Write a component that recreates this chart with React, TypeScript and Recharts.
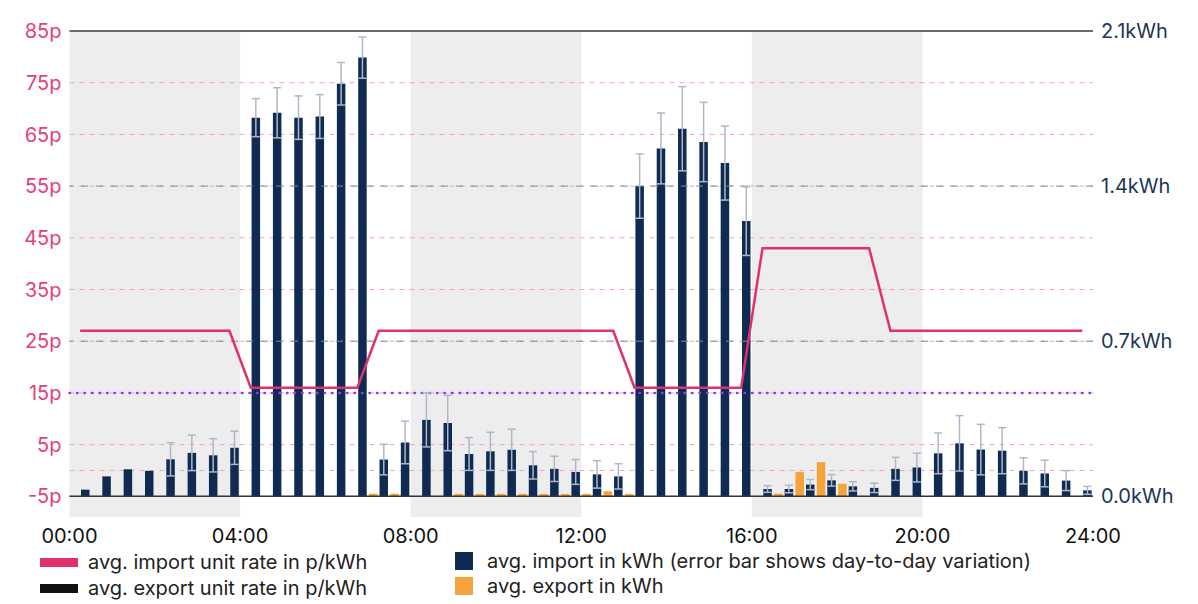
import React from 'react';
import {
  ComposedChart,
  Bar,
  Line,
  XAxis,
  YAxis,
  CartesianGrid,
  ReferenceArea,
  ReferenceLine,
  ErrorBar,
} from 'recharts';

// half-hour slots (start times)
const slots = [
  '00:00', '00:30', '01:00', '01:30', '02:00', '02:30', '03:00', '03:30',
  '04:00', '04:30', '05:00', '05:30', '06:00', '06:30', '07:00', '07:30',
  '08:00', '08:30', '09:00', '09:30', '10:00', '10:30', '11:00', '11:30',
  '12:00', '12:30', '13:00', '13:30', '14:00', '14:30', '15:00', '15:30',
  '16:00', '16:30', '17:00', '17:30', '18:00', '18:30', '19:00', '19:30',
  '20:00', '20:30', '21:00', '21:30', '22:00', '22:30', '23:00', '23:30',
];

// avg. import in kWh per slot
const importKwh = [
  0.03, 0.09, 0.122, 0.115, 0.167, 0.196, 0.185, 0.219,
  1.709, 1.731, 1.709, 1.714, 1.862, 1.98, 0.166, 0.243,
  0.345, 0.331, 0.191, 0.203, 0.21, 0.14, 0.124, 0.11,
  0.099, 0.09, 1.4, 1.57, 1.659, 1.599, 1.504, 1.242,
  0.033, 0.033, 0.053, 0.072, 0.045, 0.038, 0.124, 0.13,
  0.194, 0.239, 0.211, 0.206, 0.115, 0.103, 0.071, 0.027,
];

// day-to-day variation (+/-) of the import
const importErr = [
  null, null, null, null, 0.075, 0.08, 0.075, 0.075,
  0.086, 0.113, 0.098, 0.099, 0.096, 0.093, 0.069, 0.096,
  0.122, 0.125, 0.074, 0.086, 0.093, 0.062, 0.057, 0.056,
  0.062, 0.057, 0.145, 0.16, 0.19, 0.179, 0.167, 0.155,
  0.015, 0.017, 0.023, 0.026, 0.021, 0.021, 0.052, 0.065,
  0.092, 0.125, 0.114, 0.104, 0.059, 0.06, 0.045, 0.018,
];

// avg. export in kWh per slot
const exportKwh = [
  0, 0, 0, 0, 0, 0, 0, 0,
  0, 0, 0, 0, 0, 0, 0.012, 0.012,
  0, 0, 0.011, 0.011, 0.011, 0.011, 0.011, 0.011,
  0.011, 0.023, 0.011, 0, 0, 0, 0, 0,
  0, 0.012, 0.11, 0.154, 0.057, 0, 0, 0,
  0, 0, 0, 0, 0, 0, 0, 0,
];

// avg. import unit rate in p/kWh
const importRate = [
  27, 27, 27, 27, 27, 27, 27, 27,
  16, 16, 16, 16, 16, 16, 27, 27,
  27, 27, 27, 27, 27, 27, 27, 27,
  27, 27, 16, 16, 16, 16, 16, 16,
  43, 43, 43, 43, 43, 43, 27, 27,
  27, 27, 27, 27, 27, 27, 27, 27,
];

const hourTicks = [0, 4, 8, 12, 16, 20, 24];
const hourLabels = ['00:00', '04:00', '08:00', '12:00', '16:00', '20:00', '24:00'];
const rateTicks = [-5, 0, 5, 15, 25, 35, 45, 55, 65, 75, 85];
const kwhTicks = [0, 0.7, 1.4, 2.1];
const shadedHours = [
  [0, 4],
  [8, 12],
  [16, 20],
];

// slot start "HH:MM" -> hours at the middle of the half hour
const slotMid = (s: string) => {
  const [h, m] = s.split(':').map(Number);
  return h + m / 60 + 0.25;
};

const data = slots.map((slot, i) => ({
  slot,
  hour: slotMid(slot),
  importKwh: importKwh[i],
  importErr: importErr[i],
  exportKwh: exportKwh[i],
  importRate: importRate[i],
}));

const FONT = 'Inter, "Noto Sans", sans-serif';
const PINK = '#e0306f';
const NAVY = '#0f2b52';
const ORANGE = '#f4a43b';

const legendItems = [
  { label: 'avg. import unit rate in p/kWh', color: PINK, left: 32, top: 550, w: 38, h: 9, textLeft: 80 },
  { label: 'avg. export unit rate in p/kWh', color: '#111111', left: 32, top: 576, w: 38, h: 9, textLeft: 80 },
  { label: 'avg. import in kWh (error bar shows day-to-day variation)', color: NAVY, left: 447, top: 549, w: 18, h: 18, textLeft: 479 },
  { label: 'avg. export in kWh', color: ORANGE, left: 447, top: 574, w: 18, h: 18, textLeft: 479 },
];

export default function App() {
  return (
    <div style={{ position: 'relative', width: 1182, height: 596, fontFamily: FONT }}>
      <ComposedChart
        width={1182}
        height={545}
        data={data}
        margin={{ top: 23, right: 7, left: 0, bottom: 6 }}
        barGap={2}
        style={{ fontFamily: FONT }}
      >
        {shadedHours.map(([a, b]) => (
          <ReferenceArea
            key={a}
            xAxisId="num"
            yAxisId="left"
            x1={a}
            x2={b}
            y1={-9}
            y2={85}
            fill="#ededed"
            fillOpacity={1}
            stroke="none"
            zIndex={-200}
          />
        ))}
        <CartesianGrid
          xAxisId="num"
          yAxisId="left"
          vertical={false}
          horizontalValues={rateTicks}
          stroke="#f0a3c2"
          strokeDasharray="5 5"
        />
        <XAxis
          xAxisId="num"
          dataKey="hour"
          type="number"
          domain={[0, 24]}
          ticks={hourTicks}
          allowDataOverflow
          tickFormatter={(v) => hourLabels[hourTicks.indexOf(v)] ?? ''}
          axisLine={false}
          tickLine={false}
          tickMargin={6}
          height={30}
          tick={{ fill: '#111111', fontSize: 20, fontFamily: FONT }}
        />
        <XAxis xAxisId="cat" dataKey="slot" type="category" height={0} hide />
        <YAxis
          yAxisId="left"
          orientation="left"
          domain={[-9, 85]}
          ticks={rateTicks}
          allowDataOverflow
          width={61.5}
          axisLine={false}
          tickLine={false}
          tickFormatter={(v) => `${v}p`}
          tick={{ fill: '#e4407c', fontSize: 20, fontFamily: FONT }}
        />
        <YAxis
          yAxisId="right"
          orientation="right"
          domain={[-0.09333, 2.1]}
          ticks={kwhTicks}
          allowDataOverflow
          width={90}
          axisLine={false}
          tickLine={false}
          tickFormatter={(v) => `${v.toFixed(1)}kWh`}
          tick={{ fill: '#1d3557', fontSize: 20, fontFamily: FONT }}
        />
        <ReferenceLine yAxisId="right" xAxisId="num" y={0.7} stroke="#7f8aa3" strokeDasharray="7 8" />
        <ReferenceLine yAxisId="right" xAxisId="num" y={1.4} stroke="#7f8aa3" strokeDasharray="7 8" />
        <ReferenceLine
          yAxisId="left"
          xAxisId="num"
          y={15}
          stroke="#8b3cf0"
          strokeWidth={2.5}
          strokeDasharray="0.5 7"
          strokeLinecap="round"
        />
        <ReferenceLine yAxisId="left" xAxisId="num" y={85} stroke="#6b6b6b" strokeWidth={2} />
        <ReferenceLine yAxisId="left" xAxisId="num" y={-5} stroke="#333333" strokeWidth={1.5} />
        <Bar
          xAxisId="cat"
          yAxisId="right"
          dataKey="exportKwh"
          fill={ORANGE}
          barSize={8.5}
          isAnimationActive={false}
        />
        <Bar
          xAxisId="cat"
          yAxisId="right"
          dataKey="importKwh"
          fill={NAVY}
          barSize={8.5}
          isAnimationActive={false}
        >
          <ErrorBar dataKey="importErr" width={4} stroke="#aeb8ca" strokeWidth={1.5} direction="y" />
        </Bar>
        <Line
          xAxisId="cat"
          yAxisId="left"
          dataKey="importRate"
          type="linear"
          stroke={PINK}
          strokeWidth={2.5}
          dot={false}
          isAnimationActive={false}
        />
      </ComposedChart>
      {legendItems.map((item) => (
        <React.Fragment key={item.label}>
          <div
            style={{
              position: 'absolute',
              left: item.left,
              top: item.top - item.h / 2 + 4,
              width: item.w,
              height: item.h,
              background: item.color,
            }}
          />
          <div
            style={{
              position: 'absolute',
              left: item.textLeft,
              top: item.top - 8,
              height: 24,
              lineHeight: '24px',
              fontSize: 20,
              color: '#222222',
              whiteSpace: 'nowrap',
            }}
          >
            {item.label}
          </div>
        </React.Fragment>
      ))}
    </div>
  );
}
